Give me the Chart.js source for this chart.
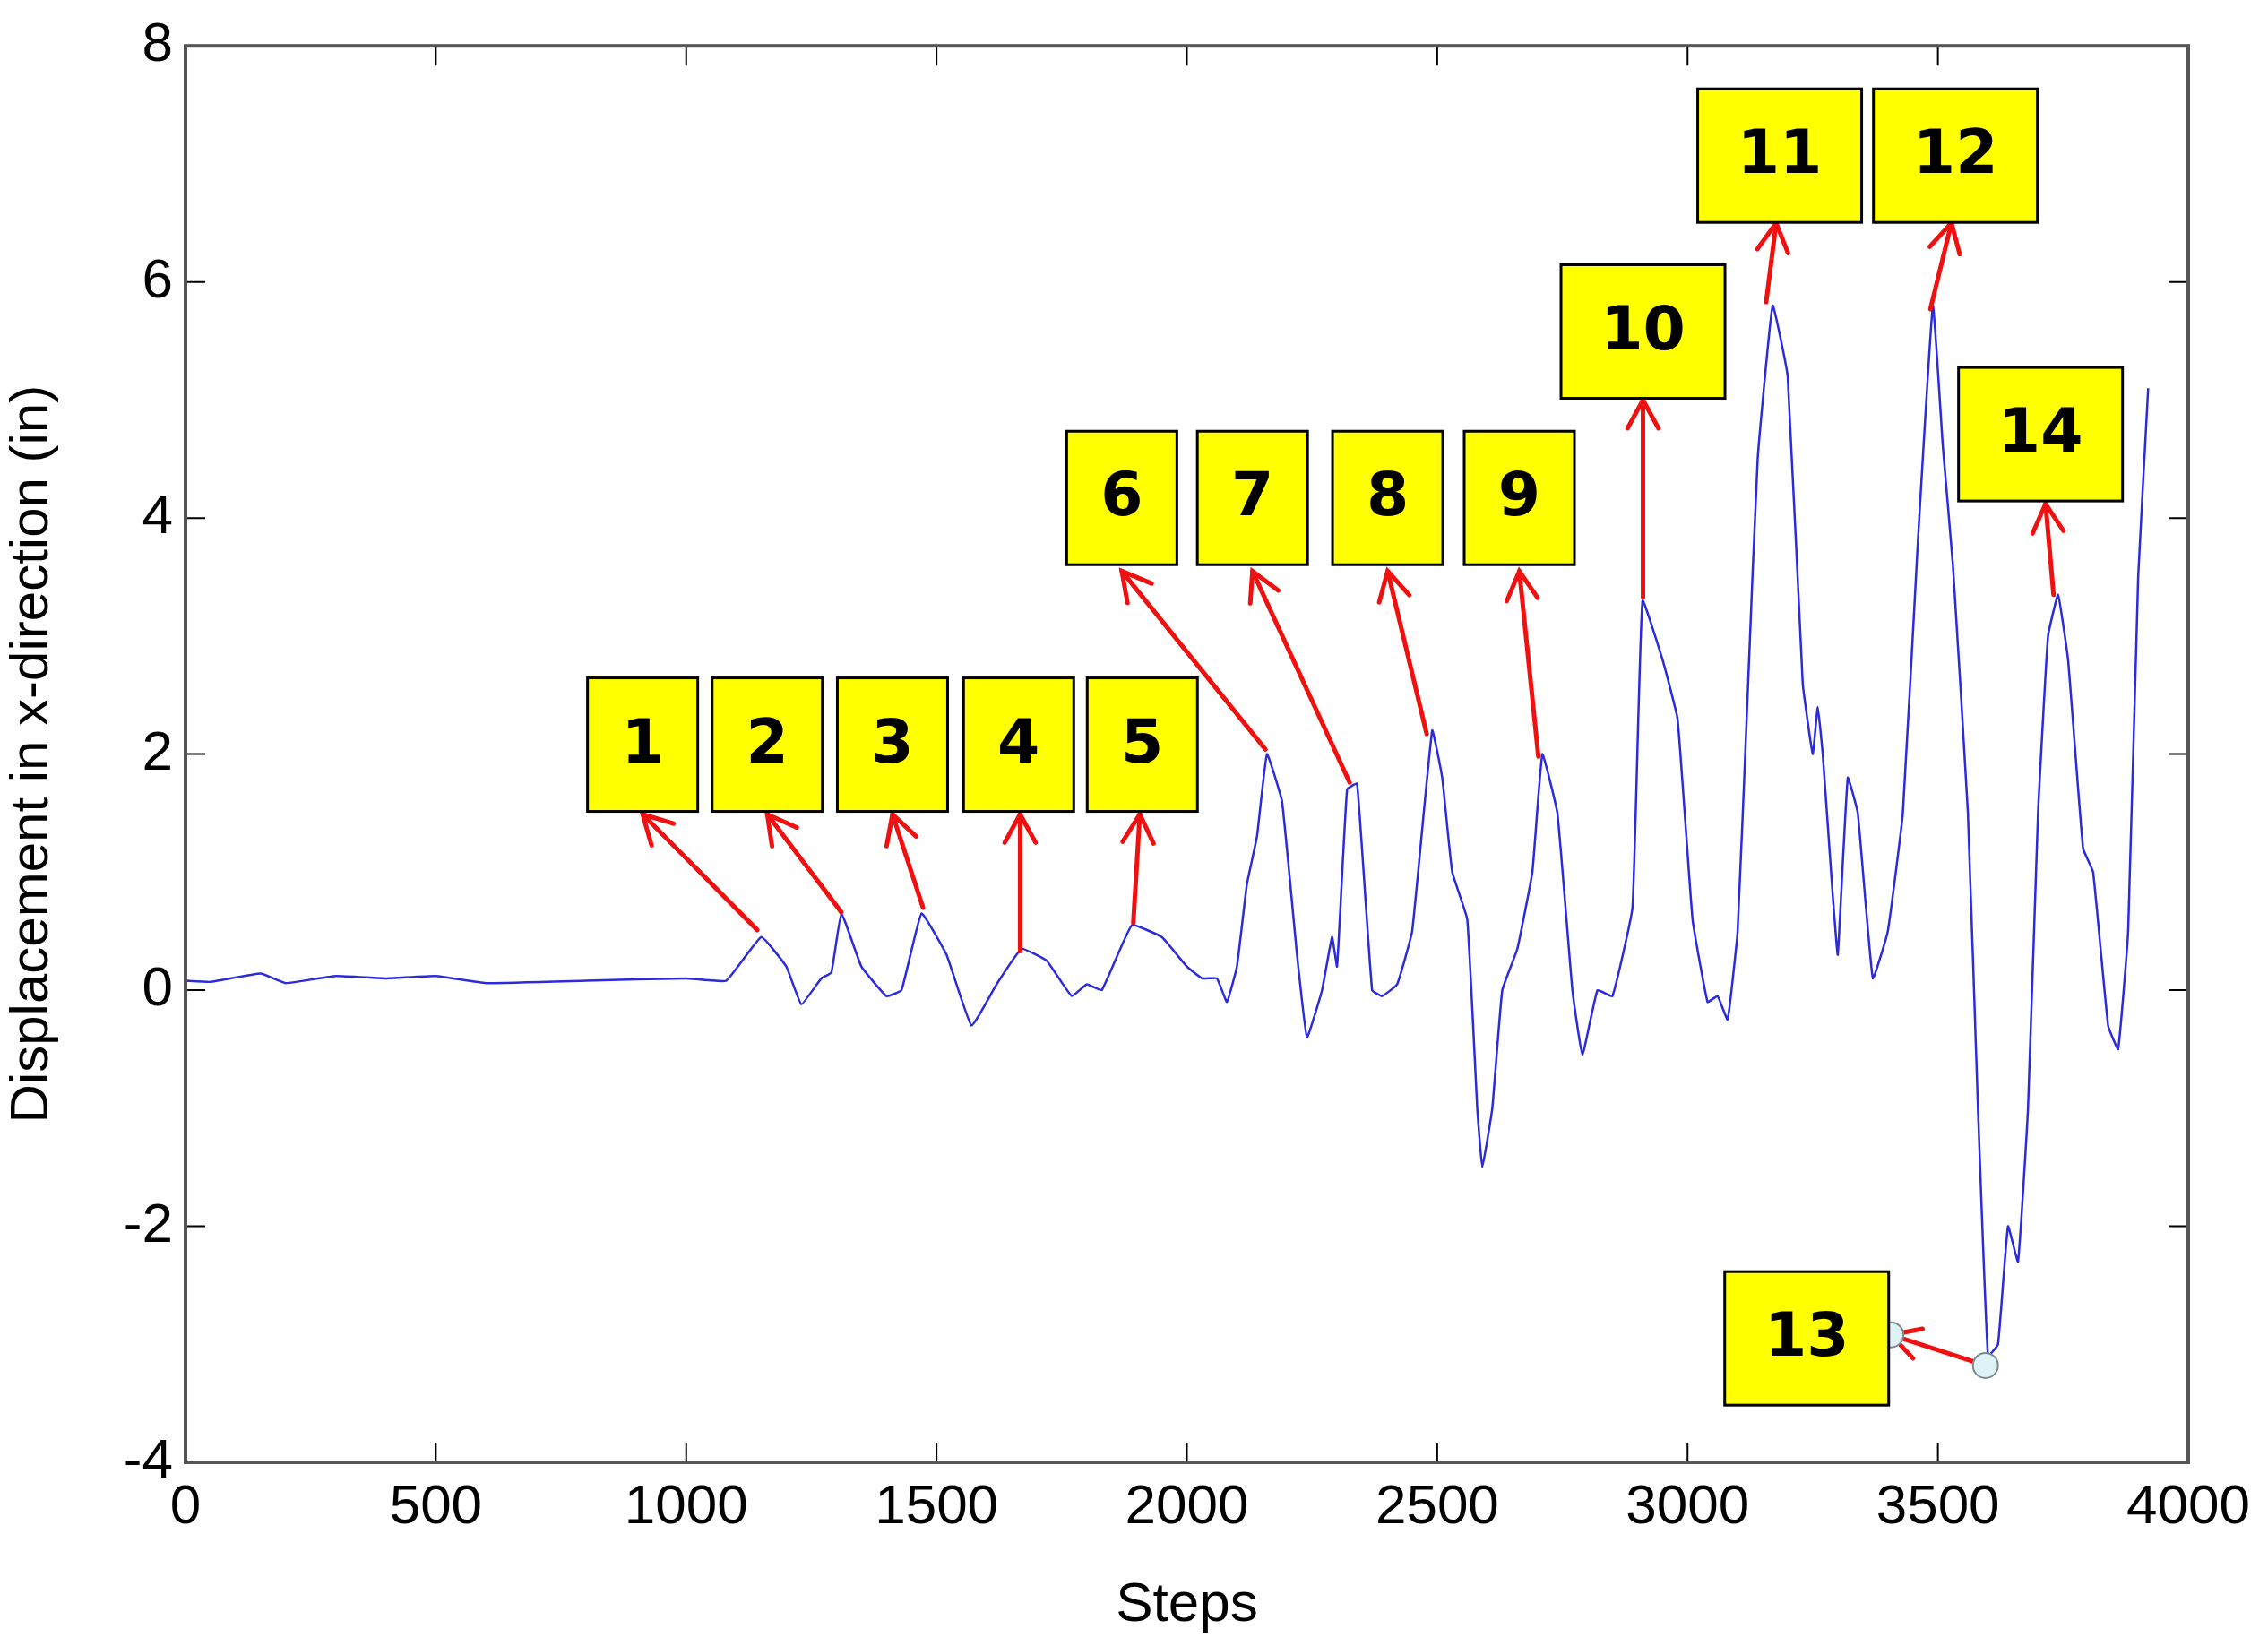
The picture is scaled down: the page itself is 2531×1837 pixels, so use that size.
<!DOCTYPE html>
<html><head><meta charset="utf-8">
<script src="https://cdn.jsdelivr.net/npm/chart.js@4"></script>
<style>html,body{margin:0;padding:0;background:#fff;}canvas{display:block}</style>
</head><body>
<canvas id="c" width="2531" height="1837"></canvas>
<script>
const steps = [0,50,150,200,300,400,500,600,800,1000,1080,1150,1200,1230,1270,1290,1310,1350,1400,1430,1470,1520,1570,1620,1670,1720,1770,1800,1830,1890,1950,2000,2030,2060,2080,2100,2120,2140,2160,2190,2220,2240,2270,2290,2300,2320,2340,2370,2390,2420,2450,2490,2510,2530,2560,2580,2590,2610,2630,2660,2690,2710,2740,2770,2790,2820,2850,2890,2910,2950,2980,3010,3040,3060,3080,3100,3120,3140,3170,3200,3230,3250,3260,3270,3290,3300,3320,3340,3370,3400,3430,3460,3490,3510,3530,3560,3580,3600,3620,3640,3660,3680,3700,3720,3740,3760,3790,3810,3840,3860,3880,3900,3920];
const displacement = [0.08,0.07,0.14,0.06,0.12,0.1,0.12,0.06,0.08,0.1,0.08,0.45,0.2,-0.12,0.1,0.15,0.65,0.2,-0.05,0.0,0.65,0.3,-0.3,0.05,0.35,0.25,-0.05,0.05,0.0,0.55,0.45,0.2,0.1,0.1,-0.1,0.2,0.9,1.3,2.0,1.6,0.3,-0.4,0.0,0.45,0.2,1.7,1.75,0.0,-0.05,0.05,0.5,2.2,1.8,1.0,0.6,-1.0,-1.5,-1.0,0.0,0.35,1.0,2.0,1.5,0.0,-0.55,0.0,-0.05,0.7,3.3,2.8,2.3,0.6,-0.1,-0.05,-0.25,0.5,2.5,4.5,5.8,5.2,2.6,2.0,2.4,2.0,0.8,0.3,1.8,1.5,0.1,0.5,1.5,3.8,5.8,4.6,3.6,1.5,-1.0,-3.1,-3.0,-2.0,-2.3,-1.0,1.5,3.0,3.35,2.8,1.2,1.0,-0.3,-0.5,0.5,3.5,5.1];
const xTicks = [0,500,1000,1500,2000,2500,3000,3500,4000];
const yTicks = [-4,-2,0,2,4,6,8];
const labelText = ['1','2','3','4','5','6','7','8','9','10','11','12','13','14'];
const boxX = [913,1162,1412,1664,1911,1870,2131,2401,2664,2911,3184,3535,3238,3705];
const boxY = [2.08,2.08,2.08,2.08,2.08,4.17,4.17,4.17,4.17,5.58,7.07,7.07,-2.95,4.71];
const boxWide = [0,0,0,0,0,0,0,0,0,1,1,1,1,1];
const arrowFromX = [1142,1310,1473,1667,1893,2157,2325,2479,2702,2911,3157,3485,3595,3731];
const arrowFromY = [0.51,0.66,0.70,0.33,0.57,2.04,1.76,2.17,1.98,3.33,5.83,5.77,-3.18,3.35];
const arrowToX = [913,1162,1412,1667,1906,1870,2131,2401,2664,2911,3177,3527,3406,3715];
const arrowToY = [1.49,1.49,1.49,1.49,1.49,3.55,3.55,3.55,3.55,5.0,6.5,6.5,-2.92,4.12];

const pts = steps.map((s,i)=>({x:s,y:displacement[i]}));

const annot = {
  id:'annot',
  afterDatasetsDraw(chart){
    const ctx=chart.ctx, xs=chart.scales.x, ys=chart.scales.y, a=chart.chartArea;
    ctx.save();
    ctx.strokeStyle='#000'; ctx.lineWidth=2;
    xTicks.forEach(v=>{const p=xs.getPixelForValue(v);ctx.beginPath();ctx.moveTo(p,a.bottom);ctx.lineTo(p,a.bottom-22);ctx.moveTo(p,a.top);ctx.lineTo(p,a.top+22);ctx.stroke();});
    yTicks.forEach(v=>{const p=ys.getPixelForValue(v);ctx.beginPath();ctx.moveTo(a.left,p);ctx.lineTo(a.left+22,p);ctx.moveTo(a.right,p);ctx.lineTo(a.right-22,p);ctx.stroke();});
    ctx.lineWidth=4; ctx.strokeStyle='#555';
    ctx.strokeRect(a.left,a.top,a.right-a.left,a.bottom-a.top);
    labelText.forEach((t,i)=>{
      const x0=xs.getPixelForValue(arrowFromX[i]), y0=ys.getPixelForValue(arrowFromY[i]);
      const x1=xs.getPixelForValue(arrowToX[i]), y1=ys.getPixelForValue(arrowToY[i]);
      ctx.strokeStyle='#f01010'; ctx.lineWidth=5; ctx.lineCap='round';
      ctx.beginPath(); ctx.moveTo(x0,y0); ctx.lineTo(x1,y1); ctx.stroke();
      const ang=Math.atan2(y1-y0,x1-x0), L=36, w=0.5;
      ctx.beginPath();
      ctx.moveTo(x1-L*Math.cos(ang-w),y1-L*Math.sin(ang-w)); ctx.lineTo(x1,y1);
      ctx.lineTo(x1-L*Math.cos(ang+w),y1-L*Math.sin(ang+w)); ctx.stroke();
      if(t==='13'){
        [[x0,y0],[x1,y1]].forEach(([px,py])=>{ctx.beginPath();ctx.arc(px,py,14,0,2*Math.PI);ctx.fillStyle='#dff2f5';ctx.fill();ctx.lineWidth=2;ctx.strokeStyle='#7a8a90';ctx.stroke();});
      }
    });
    labelText.forEach((t,i)=>{
      const cx=xs.getPixelForValue(boxX[i]), cy=ys.getPixelForValue(boxY[i]);
      const w=boxWide[i]?183:123, h=149;
      ctx.fillStyle='#ffff00'; ctx.fillRect(cx-w/2,cy-h/2,w,h);
      ctx.lineWidth=3; ctx.strokeStyle='#000'; ctx.strokeRect(cx-w/2,cy-h/2,w,h);
      ctx.fillStyle='#000'; ctx.font='bold 68px "DejaVu Sans"';
      ctx.textAlign='center'; ctx.textBaseline='middle'; ctx.fillText(t,cx,cy+2);
    });
    ctx.restore();
  }
};

new Chart(document.getElementById('c'),{
  type:'line',
  data:{datasets:[{data:pts,borderColor:'#2b2bdc',borderWidth:2.5,pointRadius:0,tension:0.1,fill:false}]},
  options:{
    responsive:false,animation:false,devicePixelRatio:1,
    layout:{padding:{left:0,top:45,right:89,bottom:0}},
    plugins:{legend:{display:false},tooltip:{enabled:false}},
    scales:{
      x:{type:'linear',min:0,max:4000,
        afterFit(s){s.height=205;},
        afterBuildTicks(s){s.ticks=xTicks.map(v=>({value:v}));},
        grid:{display:false,drawTicks:false},border:{display:false},
        ticks:{color:'#000',padding:14,maxRotation:0,callback:v=>String(v),font:{family:'Liberation Sans',size:62}},
        title:{display:true,text:'Steps',color:'#000',padding:{top:0,bottom:8},font:{family:'Liberation Sans',size:62}}},
      y:{type:'linear',min:-4,max:8,
        afterFit(s){s.width=207;},
        afterBuildTicks(s){s.ticks=yTicks.map(v=>({value:v}));},
        grid:{display:false,drawTicks:false},border:{display:false},
        ticks:{color:'#000',padding:14,callback:v=>String(v),font:{family:'Liberation Sans',size:62}},
        title:{display:true,text:'Displacement in x-direction (in)',color:'#000',padding:{top:0,bottom:4},font:{family:'Liberation Sans',size:60}}}
    }
  },
  plugins:[annot]
});
</script>
</body></html>
